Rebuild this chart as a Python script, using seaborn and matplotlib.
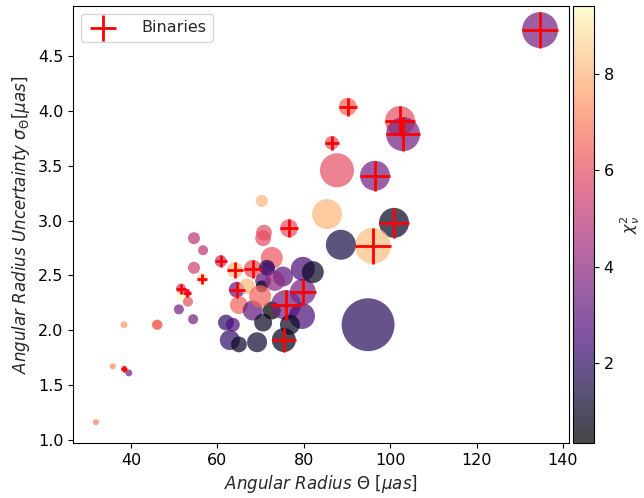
import numpy as np
import pandas as pd
import seaborn as sns
import matplotlib.pyplot as plt
from matplotlib.colors import Normalize

# angular radius (uas), uncertainty (uas), reduced chi2, marker area, binary flag
theta = [134.7, 90.2, 102.3, 103.0, 86.5, 87.7, 96.5, 85.4, 100.9, 96.0,
         88.6, 76.6, 94.9, 70.3, 70.8, 70.6, 72.6, 54.6, 56.7, 54.6,
         60.8, 64.1, 68.2, 56.4, 64.5, 51.6, 53.0, 51.8, 53.2, 51.1,
         54.4, 46.2, 66.9, 71.5, 65.0, 68.2, 62.0, 63.6, 62.9, 65.0,
         69.2, 75.4, 70.6, 72.6, 75.9, 79.8, 79.8, 82.1, 75.2, 71.7,
         70.6, 70.3, 73.3, 79.6, 76.8, 69.9, 31.9, 35.8, 38.4, 38.4,
         39.5, 46.0]
sigma = [4.74, 4.04, 3.91, 3.79, 3.71, 3.46, 3.41, 3.06, 2.98, 2.77,
         2.78, 2.93, 2.05, 3.18, 2.89, 2.84, 2.66, 2.84, 2.73, 2.57,
         2.63, 2.55, 2.56, 2.47, 2.37, 2.38, 2.34, 2.31, 2.26, 2.19,
         2.10, 2.05, 2.40, 2.57, 2.23, 2.18, 2.07, 2.05, 1.91, 1.87,
         1.89, 1.91, 2.07, 2.18, 2.23, 2.35, 2.56, 2.53, 2.49, 2.56,
         2.45, 2.40, 2.45, 2.13, 2.05, 2.31, 1.16, 1.67, 2.05, 1.65,
         1.61, 2.05]
chi2 = [3.5, 6.5, 6.0, 3.5, 6.0, 6.0, 3.5, 8.0, 1.0, 8.2,
        1.5, 6.0, 1.8, 8.0, 6.0, 6.0, 6.2, 5.0, 5.0, 5.5,
        5.0, 8.0, 6.0, 8.5, 3.0, 5.5, 5.0, 9.42, 6.0, 3.5,
        3.5, 6.8, 8.0, 1.5, 6.5, 3.0, 2.0, 2.5, 2.0, 1.0,
        1.2, 0.8, 1.0, 0.33, 3.5, 3.5, 2.5, 1.0, 3.0, 2.5,
        3.0, 1.0, 4.0, 2.5, 1.0, 6.5, 7.0, 7.2, 7.5, 6.0,
        3.5, 6.5]
area = [670, 168, 466, 600, 100, 600, 466, 466, 466, 670,
        466, 168, 1450, 75, 130, 130, 250, 75, 52, 75,
        75, 130, 168, 52, 130, 52, 33, 52, 52, 52,
        52, 52, 130, 130, 168, 207, 130, 100, 207, 130,
        207, 300, 168, 168, 466, 350, 300, 250, 207, 100,
        130, 75, 207, 350, 207, 250, 19, 19, 25, 19,
        25, 52]
binary = [1, 1, 1, 1, 1, 0, 1, 0, 1, 1,
          0, 1, 0, 0, 0, 0, 0, 0, 0, 0,
          1, 1, 1, 1, 1, 1, 1, 0, 0, 0,
          0, 0, 0, 0, 0, 0, 0, 0, 0, 0,
          0, 1, 0, 0, 1, 1, 0, 0, 0, 0,
          0, 0, 0, 0, 0, 0, 0, 0, 0, 1,
          0, 0]

df = pd.DataFrame({'theta': theta, 'sigma': sigma, 'chi2': chi2,
                   'area': area, 'binary': binary})
bins = df[df['binary'] == 1]

sns.set_style('ticks')
plt.rcParams['font.family'] = ['DejaVu Sans']
plt.rcParams['axes.edgecolor'] = 'black'
plt.rcParams['xtick.color'] = 'black'
plt.rcParams['ytick.color'] = 'black'

fig = plt.figure(figsize=(6.44, 4.98), dpi=100)
ax = fig.add_axes([0.1134, 0.1104, 0.7701, 0.8776])
cax = fig.add_axes([0.889, 0.1104, 0.033, 0.8776])

norm = Normalize(vmin=min(chi2), vmax=max(chi2))
sns.scatterplot(data=df, x='theta', y='sigma', hue='chi2', palette='magma',
                hue_norm=norm, size='area', sizes=(min(area), max(area)),
                alpha=0.72, linewidth=0, legend=False, ax=ax)
ax.scatter(bins['theta'], bins['sigma'], s=bins['area'], marker='+',
           color='red', linewidths=2, label='Binaries', zorder=5)

sm = plt.cm.ScalarMappable(norm=norm, cmap='magma')
cb = fig.colorbar(sm, cax=cax, alpha=0.72)
cb.set_label(r'$\chi^2_\nu$', fontsize=11.5)
cb.ax.tick_params(labelsize=11.5)

ax.set_xlim(26.6, 141.4)
ax.set_ylim(0.97, 4.96)
ax.set_xticks([40, 60, 80, 100, 120, 140])
ax.set_yticks([1.0, 1.5, 2.0, 2.5, 3.0, 3.5, 4.0, 4.5])
ax.tick_params(labelsize=11.5)
ax.set_xlabel(r'$Angular\ Radius\ \Theta\ [\mu as]$', fontsize=12)
ax.set_ylabel(r'$Angular\ Radius\ Uncertainty\ \sigma_\Theta [\mu as]$', fontsize=12)
ax.legend(loc='upper left', fontsize=11.5, handletextpad=1.4)

fig.savefig('out.png', dpi=100)
